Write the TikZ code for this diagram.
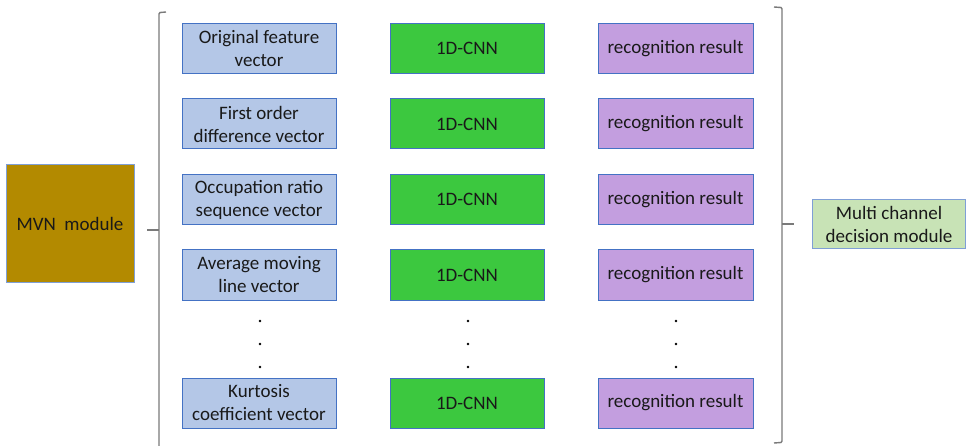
\documentclass[tikz,border=0pt]{standalone}
\usepackage{fontspec}
\setmainfont{Carlito}
\definecolor{vecfill}{HTML}{B4C7E7}
\definecolor{cnnfill}{HTML}{3CC83F}
\definecolor{resfill}{HTML}{C39EDF}
\definecolor{mvnfill}{HTML}{B38A00}
\definecolor{decfill}{HTML}{C8E3B6}
\definecolor{boxline}{HTML}{4472C4}
\definecolor{softline}{HTML}{7F9FD6}
\definecolor{braceline}{HTML}{7A7A7A}
\begin{document}
\begin{tikzpicture}[x=1pt, y=-1pt,
  font=\fontsize{19}{23}\selectfont,
  block/.style={draw=boxline, line width=1pt, inner sep=0pt, align=center, text=black!90},
  vecbox/.style={block, fill=vecfill, minimum width=154pt, minimum height=50pt},
  cnnbox/.style={block, fill=cnnfill, minimum width=154pt, minimum height=50pt},
  resbox/.style={block, fill=resfill, minimum width=155pt, minimum height=50pt},
  brace/.style={draw=braceline, line width=1.4pt},
  dot/.style={fill=black, circle, inner sep=0pt, minimum size=2.6pt}]

\useasboundingbox (0, 0) rectangle (966, 446);

\node[block, draw=softline, fill=mvnfill, minimum width=128pt, minimum height=118pt] (mvn) at (70, 224) {MVN\ \ module};

\node[vecbox] (vec1) at (259, 48.5) {Original feature\\vector};
\node[vecbox] (vec2) at (259, 124) {First order\\difference vector};
\node[vecbox] (vec3) at (259, 199.5) {Occupation ratio\\sequence vector};
\node[vecbox] (vec4) at (259, 275) {Average moving\\line vector};
\node[vecbox] (vec5) at (259, 403) {Kurtosis\\coefficient vector};

\node[cnnbox] (cnn1) at (467, 48.5) {1D-CNN};
\node[cnnbox] (cnn2) at (467, 124) {1D-CNN};
\node[cnnbox] (cnn3) at (467, 199.5) {1D-CNN};
\node[cnnbox] (cnn4) at (467, 275) {1D-CNN};
\node[cnnbox] (cnn5) at (467, 403) {1D-CNN};

\node[resbox] (res1) at (675.5, 48.5) {recognition result};
\node[resbox] (res2) at (675.5, 124) {recognition result};
\node[resbox] (res3) at (675.5, 199.5) {recognition result};
\node[resbox] (res4) at (675.5, 275) {recognition result};
\node[resbox] (res5) at (675.5, 403) {recognition result};

\node[block, draw=softline, fill=decfill, minimum width=153pt, minimum height=49pt] (dec) at (889, 224.5) {Multi channel\\decision module};

% vertical dots
\node[dot] (vdot1) at (260, 321) {};
\node[dot] (vdot2) at (260, 344) {};
\node[dot] (vdot3) at (260, 367) {};
\node[dot] (cdot1) at (468, 321) {};
\node[dot] (cdot2) at (468, 344) {};
\node[dot] (cdot3) at (468, 367) {};
\node[dot] (rdot1) at (676, 321) {};
\node[dot] (rdot2) at (676, 344) {};
\node[dot] (rdot3) at (676, 367) {};

% braces
\coordinate (ltip) at (147, 230);
\coordinate (rtip) at (794, 224);
\draw[brace] (166, 12) -- (160, 12.5) -- (159, 14) -- (159, 450);
\draw[brace] (ltip) -- (159, 230);
\draw[brace] (774, 7) -- (781, 7.5) -- (782, 9) -- (782, 441) -- (781, 442.5) -- (774, 443);
\draw[brace] (782, 224) -- (rtip);

\end{tikzpicture}
\end{document}
